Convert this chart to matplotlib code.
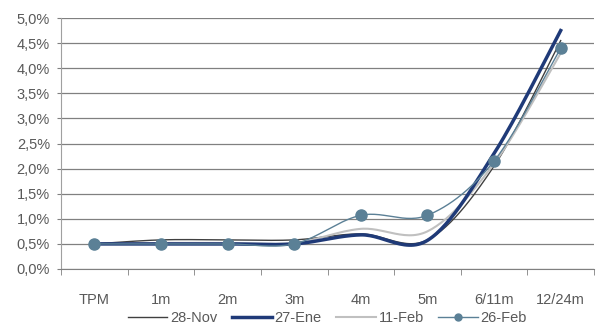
import numpy as np
import matplotlib
matplotlib.use("Agg")
import matplotlib.pyplot as plt
from matplotlib.ticker import FuncFormatter

# tenors on the x axis
tenors = ["TPM", "1m", "2m", "3m", "4m", "5m", "6/11m", "12/24m"]

# expected rate path (%) for each survey date
nov28 = [0.50, 0.58, 0.58, 0.58, 0.70, 0.58, 2.05, 4.55]
ene27 = [0.50, 0.50, 0.50, 0.50, 0.68, 0.57, 2.30, 4.75]
feb11 = [0.50, 0.52, 0.52, 0.52, 0.80, 0.75, 2.10, 4.30]
feb26 = [0.50, 0.50, 0.50, 0.50, 1.07, 1.07, 2.15, 4.40]


def smooth(y, n=30):
    # spreadsheet-style smoothed line: cubic bezier segments with
    # control points taken from the neighbouring values
    y = np.asarray(y, dtype=float)
    x = np.arange(len(y), dtype=float)
    px = np.concatenate([[x[0]], x, [x[-1]]])
    py = np.concatenate([[y[0]], y, [y[-1]]])
    xs, ys = [], []
    t = np.linspace(0, 1, n)
    for i in range(len(y) - 1):
        p0 = np.array([x[i], y[i]])
        p3 = np.array([x[i + 1], y[i + 1]])
        c1 = p0 + (np.array([px[i + 2], py[i + 2]]) - np.array([px[i], py[i]])) / 6
        c2 = p3 - (np.array([px[i + 3], py[i + 3]]) - np.array([px[i + 1], py[i + 1]])) / 6
        b = ((1 - t) ** 3)[:, None] * p0 + (3 * (1 - t) ** 2 * t)[:, None] * c1 \
            + (3 * (1 - t) * t ** 2)[:, None] * c2 + (t ** 3)[:, None] * p3
        xs.extend(b[:, 0])
        ys.extend(b[:, 1])
    return np.array(xs), np.array(ys)


plt.rcParams["font.family"] = ["Liberation Sans", "DejaVu Sans"]
txt = "#595959"
fs = 10.5

fig = plt.figure(figsize=(6.06, 3.29), dpi=100)
ax = fig.add_axes([61 / 606, 1 - 269 / 329, 533 / 606, 251 / 329])

x = np.arange(len(tenors))

sx, sy = smooth(nov28)
ax.plot(sx, sy, color="#404040", lw=1.0, label="28-Nov", zorder=3)
sx, sy = smooth(ene27)
ax.plot(sx, sy, color="#1f3a78", lw=2.5, label="27-Ene", zorder=4)
sx, sy = smooth(feb11)
ax.plot(sx, sy, color="#c0c0c0", lw=1.5, label="11-Feb", zorder=3)
sx, sy = smooth(feb26)
ax.plot(sx, sy, color="#5b8096", lw=1.0, zorder=5)
ax.plot(x, feb26, ls="none", marker="o", ms=8, color="#5b8096", zorder=6)
# legend proxy for the marker series
ax.plot([], [], color="#5b8096", lw=1.0, marker="o", ms=5, label="26-Feb")

ax.set_xlim(-0.5, len(tenors) - 0.5)
ax.set_ylim(0, 5.0)
ax.set_yticks(np.arange(0, 5.01, 0.5))
ax.yaxis.set_major_formatter(FuncFormatter(lambda v, p: f"{v:.1f}%".replace(".", ",")))
ax.grid(axis="y", color="#808080", lw=0.9)
ax.set_axisbelow(True)

ax.set_xticks(x)
ax.set_xticklabels(tenors)
ax.set_xticks(np.arange(-0.5, len(tenors), 1.0), minor=True)
ax.tick_params(axis="x", which="major", length=0, pad=17, labelsize=fs, colors=txt)
ax.tick_params(axis="x", which="minor", length=4, color="#808080")
ax.tick_params(axis="y", length=3, color="#808080", pad=5, labelsize=fs, colors=txt)

for s in ["top", "right"]:
    ax.spines[s].set_visible(False)
ax.spines["left"].set_color("#a0a0a0")
ax.spines["bottom"].set_color("#808080")

leg = ax.legend(loc="upper center", bbox_to_anchor=(0.5, -0.14), ncol=4, frameon=False,
                fontsize=fs, handlelength=2.7, handletextpad=0.2, columnspacing=1.0,
                borderpad=0, labelcolor=txt)

fig.savefig("out.png", dpi=100)
